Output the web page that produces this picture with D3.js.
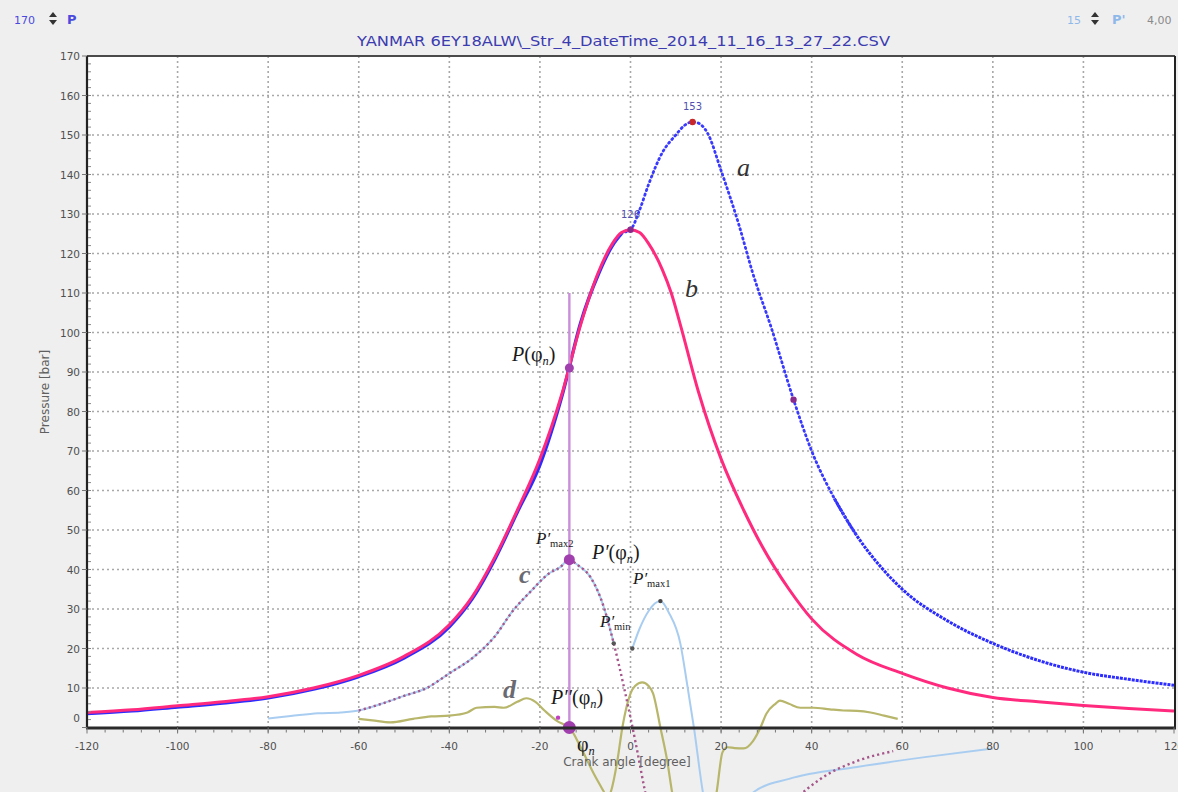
<!DOCTYPE html>
<html><head><meta charset="utf-8">
<script src="https://cdn.jsdelivr.net/npm/d3@7"></script>
<style>
html,body{margin:0;padding:0;background:#efefef;overflow:hidden;}
svg{display:block;}
</style></head>
<body>
<script>
// ---------- data ----------
const xTicks = [-120,-100,-80,-60,-40,-20,0,20,40,60,80,100,120];
const yTicks = [0,10,20,30,40,50,60,70,80,90,100,110,120,130,140,150,160,170];

// curve a (blue) : fired pressure
const aX = [-120,-110,-100,-90,-80,-70,-60,-50,-40,-35,-30,-25,-20,-15,-11,-7,-4,-2,0,2,4,7,10,12,13.7,15,17,20,24,27,31,36,40,45,50,55,60,70,80,90,100,110,120];
const aY = [3.5,4.2,5.2,6.2,7.5,9.7,12.9,17.6,25.5,32.5,42.5,54.5,66.5,84.5,102.5,115,122,125,126,131,137.5,145.5,150,152.5,153.3,153,150.5,141,127,115,101.5,83,70,58,48.5,41,35,27,21.3,17,14,12.2,10.7];

// curve b (pink) : motored pressure
const bX = [-120,-110,-100,-90,-80,-70,-60,-50,-40,-35,-30,-25,-20,-15,-11,-7,-4,-2,0,2,4,7,9,11,15,20,25,29,35,40,50,60,70,80,90,100,110,120];
const bY = [3.8,4.5,5.5,6.5,7.8,10,13.2,18,26,33,43,55,68,85,102,115.5,122.5,125.3,126,125.3,122.5,116,110,102,85,68,55,46,35,27.5,18.5,13.7,10,7.6,6.5,5.6,4.8,4.2];

// curve c (dotted purple) : first derivative
const cX = [-60,-55,-50,-45,-40,-35,-30,-26,-22,-18,-15.5,-13.7,-11.5,-8.8,-5.9,-3.7,-1.5,0,1.5,3,6,10,20,30,36,42,50,58];
const cY = [4.3,6,8,10,13.7,17.5,23,29.5,34.5,39,40.6,42.4,41,38,30.5,21.3,10.5,2.5,-6,-15,-30,-45,-50,-30,-19,-13,-8.5,-6];

// light blue derivative, two pieces
const lb1X = [-80,-75,-69,-64,-60,-55,-50,-45,-40,-35,-30,-26,-22,-18,-15.5,-13.7,-11.5,-8.8,-5.9,-3.7];
const lb1Y = [2.3,2.9,3.6,3.8,4.3,6,8,10,13.7,17.5,23,29.5,34.5,39,40.6,42.4,41,38,30.5,21.3];
const lb2X = [0.4,2,4,6.6,8.5,11,12.5,14,16,20,24,27,35,50,65,80];
const lb2Y = [20,25,29.5,32,29,21.3,11,0,-16.5,-30,-24,-16.5,-13,-10,-7.5,-5.3];

// curve d (olive) : second derivative
const dX = [-60,-57,-53,-48,-44,-40,-36,-34,-30,-28,-25,-23,-21,-19,-16,-14.8,-13.5,-11,-8.1,-6,-5,-4.4,-2.9,-1.8,0,1,2.6,4,5,6.6,8.1,9.2,12,15,18,19,20.3,21.4,23,25,27,28.7,30,32,33,35,37.5,40.4,44,47,50,53,56,59];
const dY = [2.2,1.8,1.3,2.2,2.8,3,3.8,5,5.2,5,6.5,7.4,6.5,4.3,1.5,0.8,0,-5,-11.7,-16,-18,-16.5,-8.4,0,8.6,10.5,11.4,10.5,8.6,0,-8.4,-16.5,-28,-30,-22,-16.5,-6.3,-5,-5.2,-5.3,-3.5,0,3.5,6,6.8,6,5,5,4.6,4.3,4.2,3.8,3,2.2];

// markers
const phiN = -13.5;
const phiLineTop = 110;
const phiVals = [91, 42.5, 0];          // P, P', P'' at phi_n
const phiRadius = [4.5, 5.5, 6.5];
const peakX = [13.7, 0, 36];
const peakY = [153.3, 126, 83];
const peakColor = ["#c8282a", "#8a2a8a", "#8a2a8a"];
const peakLabel = ["153", "126", ""];
const smallMarkX = [-3.7, 0.4, 6.6, -16];
const smallMarkY = [21.3, 20, 32, 2.5];
const smallMarkColor = ["#555","#555","#444","#c040c0"];

// ---------- drawing ----------
const W = 1178, H = 792;
const svg = d3.select("body").append("svg").attr("width", W).attr("height", H);
const xs = d3.scaleLinear().domain([-120,120]).range([87,1174]);
const ys = d3.scaleLinear().domain([0,170]).range([727.5,56]);

// plot background
svg.append("rect").attr("x", xs(-120)).attr("y", ys(170)).attr("width", xs(120)-xs(-120)).attr("height", ys(0)-ys(170)).attr("fill","#fff");

// grid
const grid = svg.append("g");
grid.selectAll(".vg").data(xTicks.filter(t=>t>-120 && t<120)).join("line")
  .attr("x1", d=>xs(d)).attr("x2", d=>xs(d)).attr("y1", ys(170)).attr("y2", ys(0))
  .attr("stroke","#a8a8a8").attr("stroke-width",1.6).attr("stroke-dasharray","2,3");
grid.selectAll(".hg").data(yTicks.filter(t=>t>0 && t<170)).join("line")
  .attr("y1", d=>ys(d)).attr("y2", d=>ys(d)).attr("x1", xs(-120)).attr("x2", xs(120))
  .attr("stroke","#a8a8a8").attr("stroke-width",1.6).attr("stroke-dasharray","2,3");

const line = d3.line().x(d=>xs(d[0])).y(d=>ys(d[1])).curve(d3.curveMonotoneX);

// light blue derivative
svg.append("path").datum(d3.zip(lb1X, lb1Y)).attr("d", line).attr("fill","none").attr("stroke","#a9cdf0").attr("stroke-width",2);
svg.append("path").datum(d3.zip(lb2X, lb2Y)).attr("d", line).attr("fill","none").attr("stroke","#a9cdf0").attr("stroke-width",2);

// olive d
svg.append("path").datum(d3.zip(dX, dY)).attr("d", line).attr("fill","none").attr("stroke","#b7b66a").attr("stroke-width",2.2);

// dotted purple c
svg.append("path").datum(d3.zip(cX, cY)).attr("d", line).attr("fill","none").attr("stroke","#a5568a").attr("stroke-width",2.4).attr("stroke-dasharray","2.2,3");

// blue a
const aPts = d3.zip(aX, aY);
svg.append("path").datum(aPts.filter(p=>p[0]<=-2)).attr("d", line).attr("fill","none").attr("stroke","#2c2cff").attr("stroke-width",3.4);
svg.append("path").datum(aPts.filter(p=>p[0]>=45)).attr("d", line).attr("fill","none").attr("stroke","#2c2cff").attr("stroke-width",3).attr("stroke-dasharray","3,1");
svg.append("path").datum(aPts.filter(p=>p[0]>=-4 && p[0]<=50)).attr("d", line).attr("fill","none").attr("stroke","#3a3aff").attr("stroke-width",2.8)
  .attr("stroke-linecap","round").attr("stroke-dasharray","1.2,3.6");

// pink b
svg.append("path").datum(d3.zip(bX, bY)).attr("d", line).attr("fill","none").attr("stroke","#ff2a7e").attr("stroke-width",3);

// phi_n vertical line
svg.append("line").attr("x1", xs(phiN)).attr("x2", xs(phiN)).attr("y1", ys(0)).attr("y2", ys(phiLineTop))
  .attr("stroke","#c98fd8").attr("stroke-width",2.4);

// peaks
svg.selectAll(".pk").data(d3.range(peakX.length)).join("circle")
  .attr("cx", i=>xs(peakX[i])).attr("cy", i=>ys(peakY[i])).attr("r",3.2).attr("fill", i=>peakColor[i]);
svg.selectAll(".pkl").data(d3.range(peakX.length)).join("text")
  .attr("x", i=>xs(peakX[i])).attr("y", i=>ys(peakY[i])-12).attr("text-anchor","middle")
  .attr("font-family","DejaVu Sans, sans-serif").attr("font-size",10).attr("fill","#5050b0")
  .text(i=>peakLabel[i]);
svg.selectAll(".sm").data(d3.range(smallMarkX.length)).join("circle")
  .attr("cx", i=>xs(smallMarkX[i])).attr("cy", i=>ys(smallMarkY[i])).attr("r",2.2).attr("fill", i=>smallMarkColor[i]);

// phi points
svg.selectAll(".phi").data(d3.range(phiVals.length)).join("circle")
  .attr("cx", xs(phiN)).attr("cy", i=>ys(phiVals[i])).attr("r", i=>phiRadius[i]).attr("fill","#a23fae");

// axes frame
svg.append("line").attr("x1", xs(-120)).attr("x2", xs(120)+1).attr("y1", ys(170)).attr("y2", ys(170)).attr("stroke","#4a4a4a").attr("stroke-width",2);
svg.append("line").attr("x1", xs(120)+1).attr("x2", xs(120)+1).attr("y1", ys(170)).attr("y2", ys(0)+1).attr("stroke","#222").attr("stroke-width",2);
svg.append("line").attr("x1", xs(-120)).attr("x2", xs(-120)).attr("y1", ys(170)).attr("y2", ys(0)+1).attr("stroke","#222").attr("stroke-width",2.2);
svg.append("line").attr("x1", xs(-120)-1).attr("x2", xs(120)+2).attr("y1", ys(0)+0.5).attr("y2", ys(0)+0.5).attr("stroke","#2a2a2a").attr("stroke-width",3);

// minor ticks
svg.selectAll(".ymin").data(d3.range(2,170,2)).join("line")
  .attr("x1", xs(-120)+1).attr("x2", xs(-120)+4).attr("y1", d=>ys(d)).attr("y2", d=>ys(d)).attr("stroke","#888").attr("stroke-width",1);
svg.selectAll(".xmin").data(d3.range(-116,120,4)).join("line")
  .attr("y1", ys(0)+2).attr("y2", ys(0)+5).attr("x1", d=>xs(d)).attr("x2", d=>xs(d)).attr("stroke","#777").attr("stroke-width",1);

// major y ticks + labels
svg.selectAll(".ymaj").data(yTicks).join("line")
  .attr("x1", xs(-120)-5).attr("x2", xs(-120)).attr("y1", d=>ys(d)).attr("y2", d=>ys(d)).attr("stroke","#777").attr("stroke-width",1);
svg.selectAll(".ylab").data(yTicks).join("text")
  .attr("x", xs(-120)-7).attr("y", d=>ys(d)+4 - (d===0?10:0)).attr("text-anchor","end")
  .attr("font-family","DejaVu Sans, Verdana, sans-serif").attr("font-size",10.5).attr("fill","#505050")
  .text(d=>d);
svg.selectAll(".xmaj").data(xTicks).join("line")
  .attr("x1", d=>xs(d)).attr("x2", d=>xs(d)).attr("y1", ys(0)).attr("y2", ys(0)+6).attr("stroke","#777").attr("stroke-width",1);
svg.selectAll(".xlab").data(xTicks).join("text")
  .attr("x", d=>xs(d)).attr("y", ys(0)+22).attr("text-anchor","middle")
  .attr("font-family","DejaVu Sans, Verdana, sans-serif").attr("font-size",10.5).attr("fill","#505050")
  .text(d=>d);

// axis titles
svg.append("text").attr("x", 627).attr("y", 766).attr("text-anchor","middle")
  .attr("font-family","DejaVu Sans, Verdana, sans-serif").attr("font-size",12).attr("fill","#606060").text("Crank angle [degree]");
svg.append("text").attr("transform","translate(49,392) rotate(-90)").attr("text-anchor","middle")
  .attr("font-family","DejaVu Sans, Verdana, sans-serif").attr("font-size",12).attr("fill","#606060").text("Pressure [bar]");

// chart title
svg.append("text").attr("x", 357).attr("y", 46).attr("textLength",533).attr("lengthAdjust","spacingAndGlyphs")
  .attr("font-family","DejaVu Sans, Verdana, sans-serif").attr("font-size",14).attr("fill","#3c3cb0")
  .text("YANMAR 6EY18ALW\\_Str_4_DateTime_2014_11_16_13_27_22.CSV");

// header controls
const hdr = svg.append("g").attr("font-family","DejaVu Sans, Verdana, sans-serif");
hdr.append("text").attr("x",14).attr("y",24).attr("font-size",11).attr("fill","#4a4ade").text("170");
hdr.append("text").attr("x",67).attr("y",24).attr("font-size",13).attr("font-weight","bold").attr("fill","#4a4ade").text("P");
hdr.append("text").attr("x",1067).attr("y",24).attr("font-size",11).attr("fill","#8fb8ea").text("15");
hdr.append("text").attr("x",1112).attr("y",24).attr("font-size",13).attr("font-weight","bold").attr("fill","#8fb8ea").text("P'");
hdr.append("text").attr("x",1147).attr("y",24).attr("font-size",11).attr("fill","#8a8a8a").text("4,00");
function spinner(cx){
  hdr.append("path").attr("d",`M${cx-4},${17} L${cx+4},${17} L${cx},${12} Z`).attr("fill","#333");
  hdr.append("path").attr("d",`M${cx-4},${20} L${cx+4},${20} L${cx},${25} Z`).attr("fill","#333");
}
spinner(53); spinner(1095);

// annotations (serif)
const ann = svg.append("g").attr("font-family","Liberation Serif, Times New Roman, serif").attr("fill","#1a1a1a");
function sub(x, y, parts, size){
  const tx = ann.append("text").attr("x",x).attr("y",y).attr("font-size",size);
  parts.forEach(p=>{
    const s = tx.append("tspan").text(p.t);
    if(p.i) s.attr("font-style","italic");
    if(p.s){ s.attr("font-size", size*0.62).attr("dy", p.dy||4); }
    if(p.up){ s.attr("dy", p.up); }
  });
}
sub(512, 361, [{t:"P",i:1},{t:"(φ"},{t:"n",i:1,s:1,dy:4},{t:")",up:-4}], 20);
sub(536, 544, [{t:"P′",i:1},{t:"max2",s:1,dy:3}], 17);
sub(592, 559, [{t:"P′",i:1},{t:"(φ"},{t:"n",i:1,s:1,dy:4},{t:")",up:-4}], 20);
sub(633, 584, [{t:"P′",i:1},{t:"max1",s:1,dy:3}], 17);
sub(600, 627, [{t:"P′",i:1},{t:"min",s:1,dy:3}], 17);
sub(551, 704, [{t:"P′′",i:1},{t:"(φ"},{t:"n",i:1,s:1,dy:4},{t:")",up:-4}], 20);
sub(577, 751, [{t:"φ"},{t:"n",i:1,s:1,dy:4}], 20);

ann.append("text").attr("x",737).attr("y",176).attr("font-size",26).attr("font-style","italic").attr("fill","#333").text("a");
ann.append("text").attr("x",685).attr("y",297).attr("font-size",26).attr("font-style","italic").attr("fill","#333").text("b");
ann.append("text").attr("x",519).attr("y",583).attr("font-size",26).attr("font-style","italic").attr("font-weight","bold").attr("fill","#6a6a72").text("c");
ann.append("text").attr("x",503).attr("y",698).attr("font-size",26).attr("font-style","italic").attr("font-weight","bold").attr("fill","#6a6a72").text("d");
</script>
</body></html>
